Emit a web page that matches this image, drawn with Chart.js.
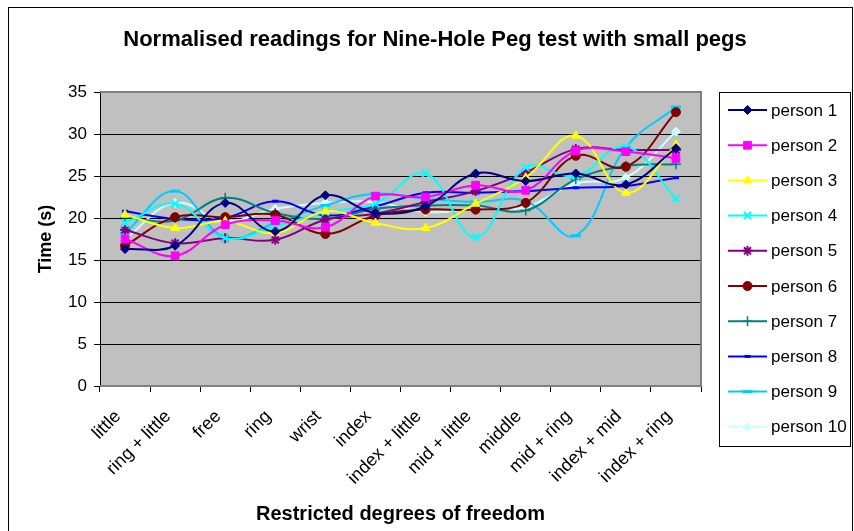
<!DOCTYPE html>
<html>
<head>
<meta charset="utf-8">
<script src="https://cdn.jsdelivr.net/npm/chart.js@4.4.0/dist/chart.umd.min.js"></script>
<style>
  html, body { margin: 0; padding: 0; background: #fff; }
  #wrap { width: 854px; height: 531px; }
</style>
</head>
<body>
<div id="wrap"><canvas id="pegChart" width="854" height="531"></canvas></div>
<script>
// Chart data
const categories = ["little", "ring + little", "free", "ring", "wrist", "index",
    "index + little", "mid + little", "middle", "mid + ring", "index + mid", "index + ring"];

const person1  = [16.3, 16.7, 21.8, 18.4, 22.7, 20.6, 21.4, 25.3, 24.4, 25.3, 24.0, 28.3];
const person2  = [17.5, 15.5, 19.2, 19.7, 18.9, 22.6, 22.5, 23.9, 23.3, 28.0, 27.9, 27.1];
const person3  = [20.4, 18.8, 19.6, 18.2, 20.8, 19.4, 18.8, 21.7, 24.8, 29.8, 23.0, 28.7];
const person4  = [19.4, 21.7, 17.6, 19.0, 20.7, 21.7, 25.3, 17.7, 26.0, 25.0, 28.5, 22.3];
const person5  = [18.6, 17.0, 17.6, 17.4, 19.8, 20.5, 21.9, 23.2, 25.4, 28.2, 28.1, 28.1];
const person6  = [16.7, 20.1, 20.1, 20.4, 18.1, 20.3, 21.0, 21.0, 21.8, 27.4, 26.1, 32.6];
const person7  = [20.1, 19.7, 22.4, 20.6, 19.9, 21.1, 21.5, 21.5, 20.9, 24.6, 26.2, 26.4];
const person8  = [20.8, 19.9, 20.0, 22.0, 20.3, 21.4, 23.0, 23.0, 23.2, 23.6, 23.8, 24.8];
const person9  = [18.2, 23.2, 17.7, 19.4, 21.5, 22.9, 22.3, 21.9, 22.0, 17.9, 28.4, 33.2];
const person10 = [17.5, 21.8, 19.6, 21.1, 21.8, 21.9, 20.7, 21.1, 21.3, 24.1, 24.8, 30.3];

const seriesNames = ["person 1", "person 2", "person 3", "person 4", "person 5",
    "person 6", "person 7", "person 8", "person 9", "person 10"];
const yTicks = [0, 5, 10, 15, 20, 25, 30, 35];

const allSeries = [person1, person2, person3, person4, person5,
    person6, person7, person8, person9, person10];

// Excel-like series styles
const colors = ["#000080", "#FF00FF", "#FFFF00", "#00FFFF", "#800080",
    "#800000", "#008080", "#0000FF", "#00CCFF", "#CCFFFF"];
const markers = [
    { pointStyle: "rectRot", radius: 4.5, border: 1 },
    { pointStyle: "rect", radius: 5.5, border: 1 },
    { pointStyle: "triangle", radius: 5, border: 1 },
    { pointStyle: "crossRot", radius: 5, border: 2 },
    { pointStyle: "star", radius: 5, border: 2 },
    { pointStyle: "circle", radius: 4.5, border: 1 },
    { pointStyle: "cross", radius: 5, border: 1.5 },
    { pointStyle: "line", radius: 3, border: 3 },
    { pointStyle: "line", radius: 5, border: 3 },
    { pointStyle: "rectRot", radius: 4.5, border: 1 }
];

const FONT = "'Liberation Sans', Arial, sans-serif";

let datasets = allSeries.map(function(values, i) {
    return {
        label: seriesNames[i],
        data: values,
        borderColor: colors[i],
        backgroundColor: colors[i],
        borderWidth: 2,
        tension: 0.4,
        fill: false,
        pointStyle: markers[i].pointStyle,
        pointRadius: markers[i].radius,
        pointBorderWidth: markers[i].border,
        pointBackgroundColor: colors[i],
        pointBorderColor: colors[i]
    };
});

// Background, frame, plot area and legend
let excelLook = {
    id: "excelLook",
    beforeDraw: function(chart) {
        let ctx = chart.ctx;
        let a = chart.chartArea;
        ctx.save();
        ctx.fillStyle = "#fff";
        ctx.fillRect(0, 0, chart.width, chart.height);
        ctx.strokeStyle = "#000";
        ctx.lineWidth = 1;
        ctx.strokeRect(8.5, 7.5, 844, 540);
        ctx.fillStyle = "#C0C0C0";
        ctx.fillRect(a.left, a.top, a.right - a.left, a.bottom - a.top);
        ctx.restore();
    },
    afterDraw: function(chart) {
        let ctx = chart.ctx;
        let a = chart.chartArea;
        ctx.save();
        // plot border
        ctx.strokeStyle = "#808080";
        ctx.lineWidth = 2;
        ctx.beginPath();
        ctx.moveTo(a.left, a.top);
        ctx.lineTo(a.right, a.top);
        ctx.lineTo(a.right, a.bottom);
        ctx.lineTo(a.left, a.bottom);
        ctx.stroke();

        // title
        ctx.fillStyle = "#000";
        ctx.font = "bold 22px " + FONT;
        ctx.textAlign = "center";
        ctx.textBaseline = "middle";
        ctx.fillText("Normalised readings for Nine-Hole Peg test with small pegs", 435, 40);

        // legend
        ctx.strokeStyle = "#000";
        ctx.lineWidth = 1;
        ctx.strokeRect(719.5, 92.5, 131, 354);
        ctx.font = "17px " + FONT;
        ctx.textAlign = "left";
        chart.data.datasets.forEach(function(ds, i) {
            let y = 110 + i * 35.2;
            ctx.strokeStyle = ds.borderColor;
            ctx.lineWidth = 2;
            ctx.beginPath();
            ctx.moveTo(728, y);
            ctx.lineTo(767, y);
            ctx.stroke();
            ctx.fillStyle = ds.pointBackgroundColor;
            ctx.strokeStyle = ds.pointBorderColor;
            ctx.lineWidth = ds.pointBorderWidth;
            Chart.helpers.drawPoint(ctx, {
                pointStyle: ds.pointStyle,
                radius: ds.pointRadius,
                rotation: 0,
                borderWidth: ds.pointBorderWidth
            }, 747.5, y);
            ctx.fillStyle = "#000";
            ctx.fillText(ds.label, 771, y + 1);
        });
        ctx.restore();
    }
};

new Chart(document.getElementById("pegChart"), {
    type: "line",
    data: { labels: categories, datasets: datasets },
    options: {
        responsive: false,
        animation: false,
        devicePixelRatio: 1,
        layout: { padding: { top: 92, right: 153, bottom: 0, left: 35 } },
        plugins: {
            legend: { display: false },
            title: { display: false },
            tooltip: { enabled: false }
        },
        scales: {
            x: {
                offset: true,
                afterFit: function(s) { s.height = 145; },
                grid: { offset: true, drawOnChartArea: false, drawTicks: true, tickLength: 6, color: "#000" },
                border: { color: "#000", width: 1 },
                ticks: {
                    autoSkip: false, minRotation: 45, maxRotation: 45, padding: 14, labelOffset: -7,
                    color: "#000", font: { family: FONT, size: 18 }
                },
                title: {
                    display: true, text: "Restricted degrees of freedom", color: "#000",
                    font: { family: FONT, size: 20, weight: "bold" },
                    padding: { top: 0, bottom: 5 }
                }
            },
            y: {
                min: yTicks[0],
                max: yTicks[yTicks.length - 1],
                afterFit: function(s) { s.width = 65; },
                afterBuildTicks: function(s) { s.ticks = yTicks.map(function(v) { return { value: v }; }); },
                grid: { color: "#000", lineWidth: 1, tickLength: 6 },
                border: { color: "#000", width: 1 },
                ticks: { padding: 7, color: "#000", font: { family: FONT, size: 17 } },
                title: {
                    display: true, text: "Time (s)", color: "#000",
                    font: { family: FONT, size: 18, weight: "bold" },
                    padding: { top: 0, bottom: 0 }
                }
            }
        }
    },
    plugins: [excelLook]
});
</script>
</body>
</html>
